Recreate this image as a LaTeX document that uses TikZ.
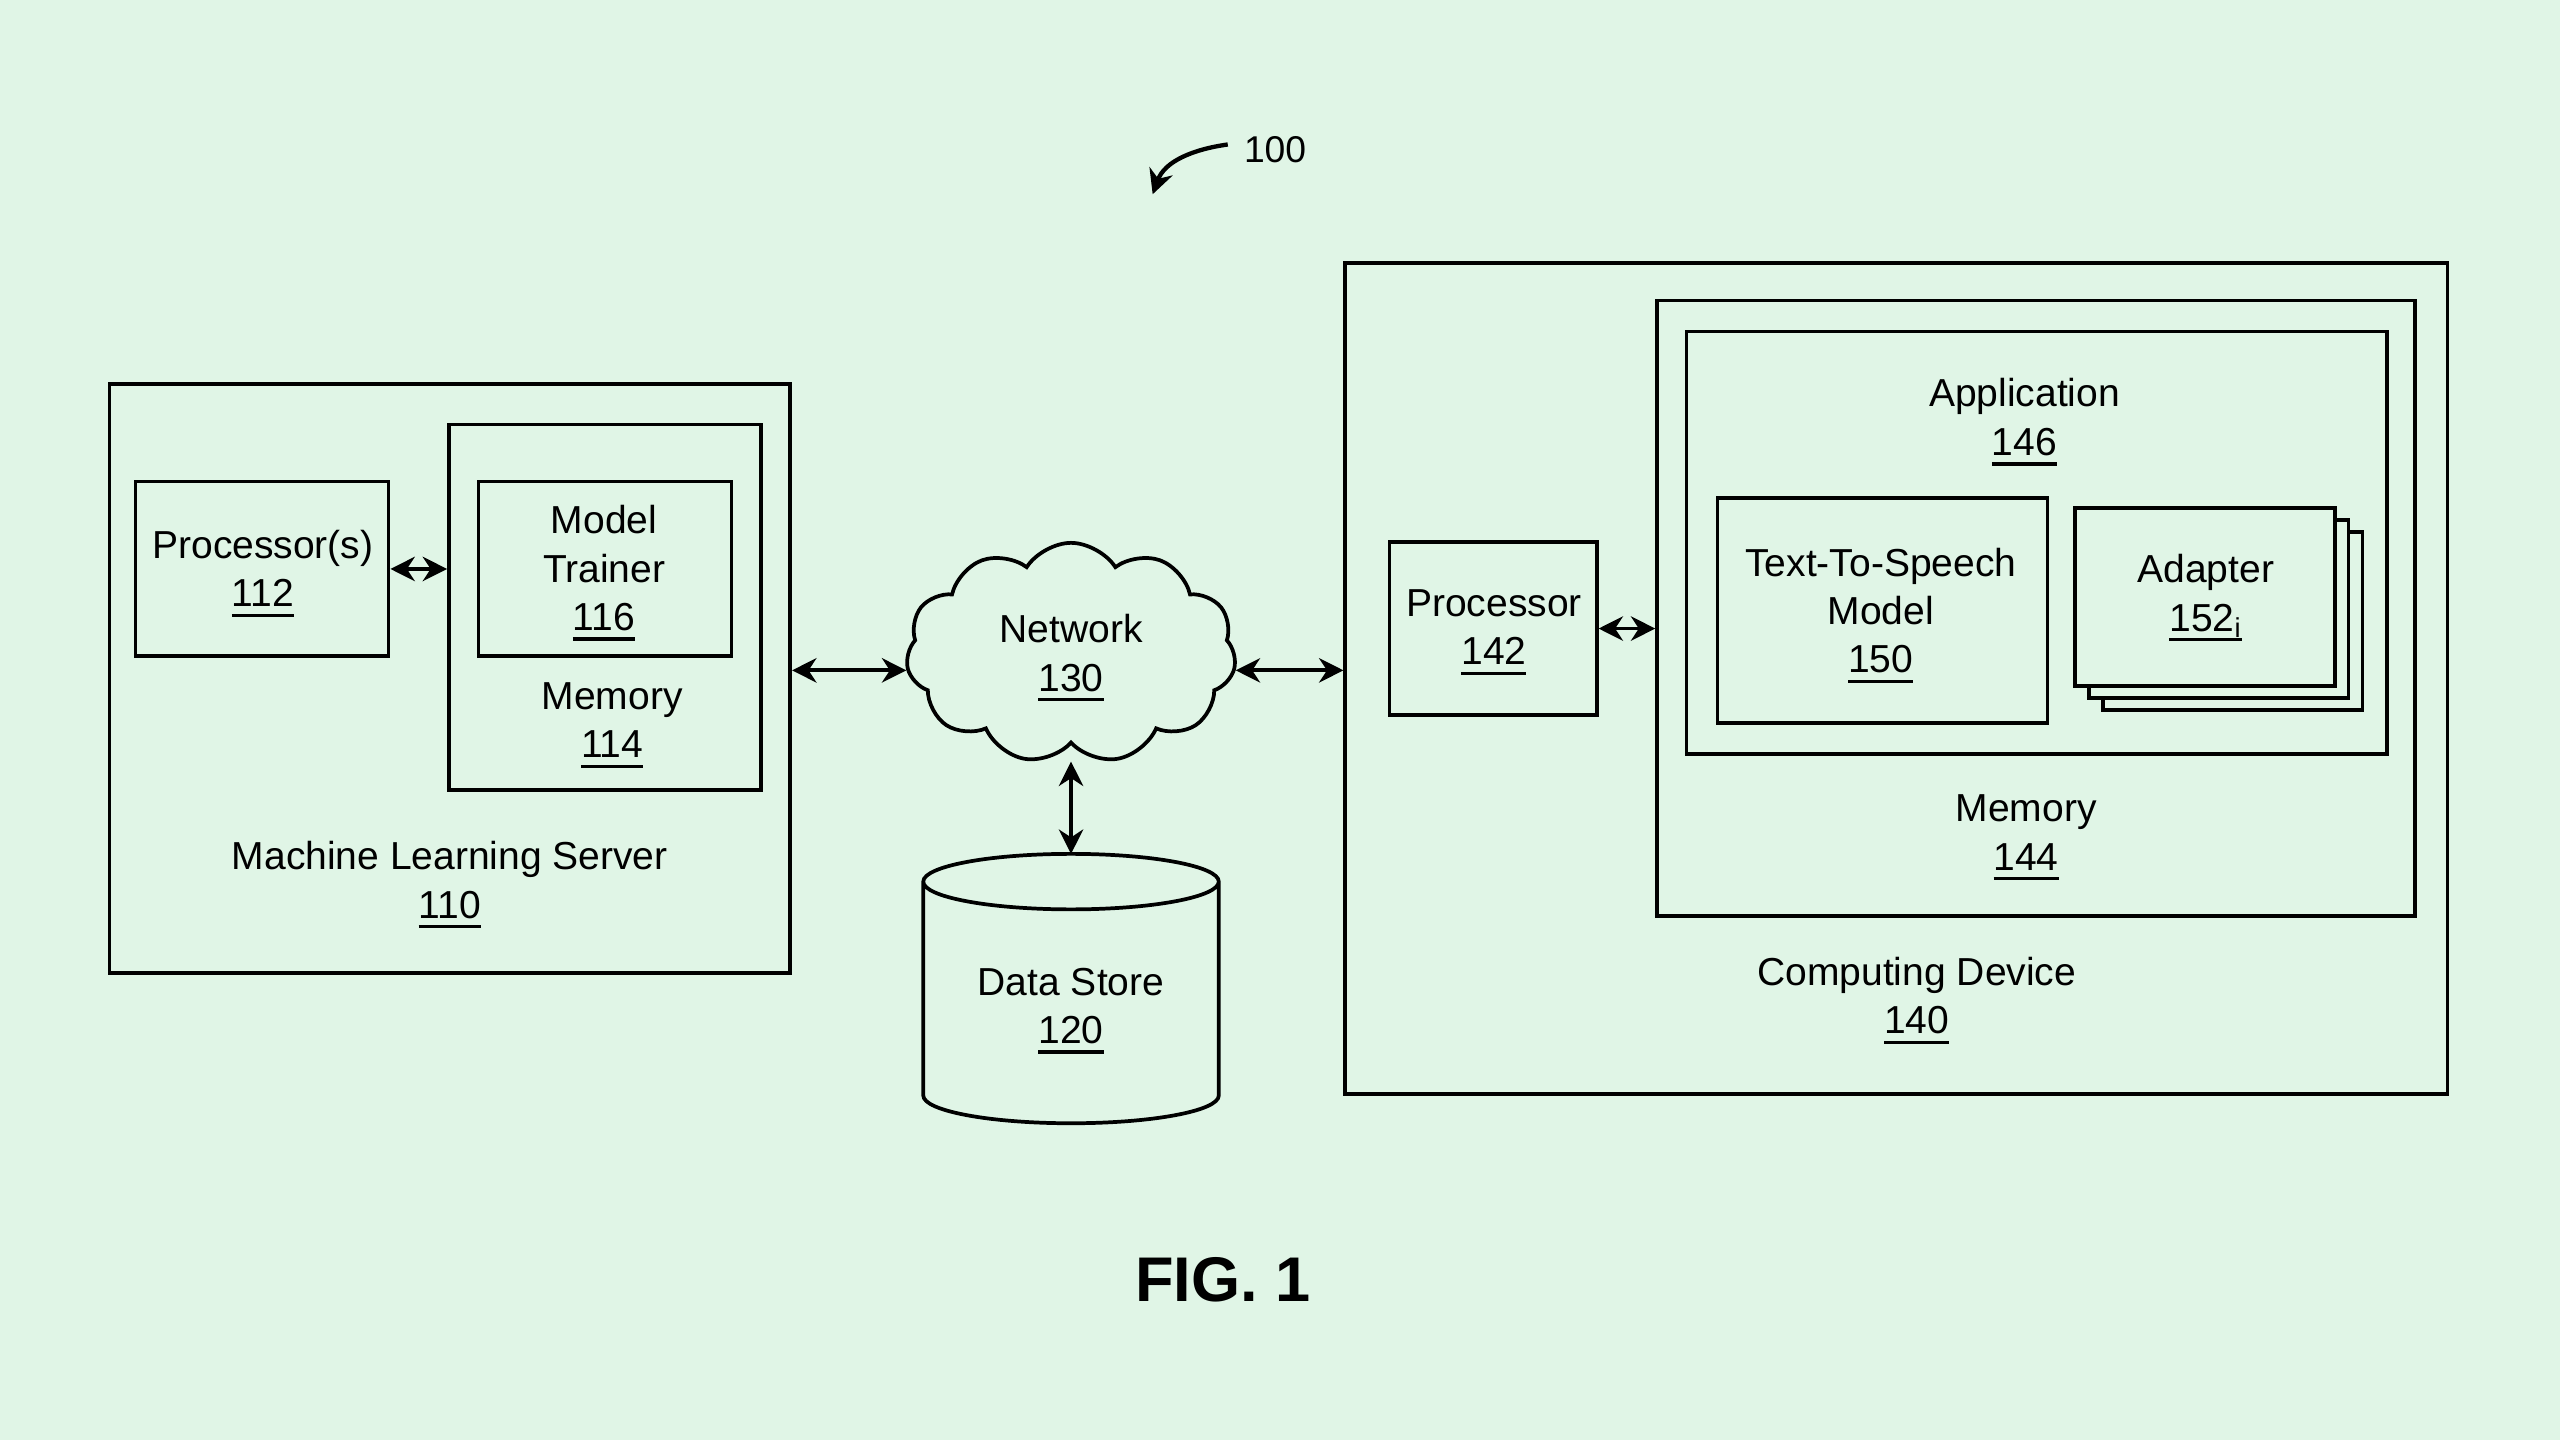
\documentclass[tikz,border=0pt]{standalone}
\usepackage{fontspec}
\setmainfont{Liberation Sans}
\usetikzlibrary{arrows.meta,shapes.symbols}
\definecolor{bg}{RGB}{224,245,230}
\newcommand{\refnum}[1]{\setbox0\hbox{#1}\rlap{\smash{\rule[-3.6pt]{\wd0}{1.1pt}}}\box0}
\tikzset{
    box/.style={draw, line width=1.3pt, inner sep=0pt},
    txt/.style={align=center, font=\fontsize{13.6}{16.8}\selectfont},
    link/.style={line width=1.3pt, {Stealth[length=8.5pt,width=8.5pt]}-{Stealth[length=8.5pt,width=8.5pt]}}
}
\begin{document}
\begin{tikzpicture}
    \fill[bg] (0,0) rectangle (31.36,17.64);
    \useasboundingbox (0,0) rectangle (31.36,17.64);
    \node[box, minimum width=8.34cm, minimum height=7.22cm] (mls) at (5.51,9.33) {};
    \node[box, minimum width=3.10cm, minimum height=2.14cm] (proc112) at (3.21,10.67) {};
    \node[box, minimum width=3.82cm, minimum height=4.48cm] (mem114) at (7.41,10.20) {};
    \node[box, minimum width=3.10cm, minimum height=2.14cm] (trainer116) at (7.41,10.67) {};
    \node[txt] (lbl110) at (5.51,6.86) {Machine Learning Server\\\refnum{110}};
    \node[txt] (lbl112) at (3.22,10.68) {Processor(s)\\\refnum{112}};
    \node[txt] (lbl116) at (7.40,10.68) {Model\\Trainer\\\refnum{116}};
    \node[txt] (lbl114) at (7.50,8.82) {Memory\\\refnum{114}};
    \node[box, cloud, cloud puffs=11, cloud puff arc=115, aspect=1.5,
          minimum width=4.04cm, minimum height=2.7cm, txt] (net130) at (13.12,9.64) {Network\\\refnum{130}};
    \coordinate (net130bot) at (13.12,8.31);
    \coordinate (store120top) at (13.12,7.18);
    \draw[box] (11.31,6.84) -- (11.31,4.22) arc[start angle=180, end angle=360, x radius=1.81, y radius=0.34]
        -- (14.93,6.84) arc[start angle=0, end angle=360, x radius=1.81, y radius=0.34];
    \node[txt] (lbl120) at (13.12,5.32) {Data Store\\\refnum{120}};
    \node[box, minimum width=13.50cm, minimum height=10.18cm] (dev140) at (23.23,9.33) {};
    \node[box, minimum width=9.28cm, minimum height=7.54cm] (mem144) at (24.94,10.19) {};
    \node[box, minimum width=8.58cm, minimum height=5.18cm] (app146) at (24.95,10.99) {};
    \node[box, minimum width=4.04cm, minimum height=2.76cm] (tts150) at (23.06,10.16) {};
    \foreach \k in {2,1} {
        \node[box, fill=bg, minimum width=3.18cm, minimum height=2.18cm] (adapter\k) at (27.01+0.17*\k,10.33-0.15*\k) {};
    }
    \node[box, fill=bg, minimum width=3.18cm, minimum height=2.18cm] (adapter0) at (27.01,10.33) {};
    \node[box, minimum width=2.54cm, minimum height=2.12cm] (proc142) at (18.29,9.94) {};
    \node[txt] (lbl140) at (23.48,5.44) {Computing Device\\\refnum{140}};
    \node[txt] (lbl144) at (24.82,7.44) {Memory\\\refnum{144}};
    \node[txt] (lbl146) at (24.80,12.53) {Application\\\refnum{146}};
    \node[txt] (lbl150) at (23.04,10.16) {Text-To-Speech\\Model\\\refnum{150}};
    \node[txt] (lbl152) at (27.02,10.34) {Adapter\\\refnum{152\textsubscript{i}}};
    \node[txt] (lbl142) at (18.30,9.96) {Processor\\\refnum{142}};
    \draw[link] (proc112.east) -- (proc112.east -| mem114.west);
    \draw[link] (mls.east |- net130.186) -- (net130.186);
    \draw[link] (net130.354) -- (net130.354 -| dev140.west);
    \draw[link] (net130bot) -- (store120top);
    \draw[link] (proc142.east) -- (proc142.east -| mem144.west);
    \node[txt, font=\fontsize{13}{16}\selectfont] (lbl100) at (15.62,15.81) {100};
    \coordinate (tip100) at (14.12,15.26);
    \draw[line width=1.5pt, -{Stealth[length=8.5pt,width=8.5pt]}] (15.04,15.87) to[out=188, in=70] (tip100);
    \node[font=\bfseries\fontsize{22}{26}\selectfont] (fig1) at (14.98,1.96) {FIG. 1};
\end{tikzpicture}
\end{document}
